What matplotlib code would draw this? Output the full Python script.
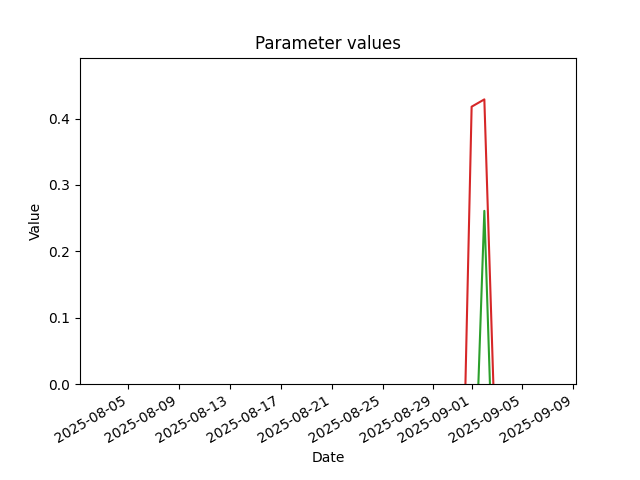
import matplotlib
matplotlib.use("Agg")
import matplotlib.pyplot as plt
import numpy as np
import pandas as pd

dates = pd.to_datetime([
    "2025-08-31 00:00", "2025-09-01 00:00", "2025-09-02 00:00", "2025-09-03 00:00",
])
param_red = [-0.44, 0.418, 0.429, -0.176]
param_green = [np.nan, -0.294, 0.261, -0.332]

x_start = pd.Timestamp("2025-08-01 04:50")
x_end = pd.Timestamp("2025-09-09 05:00")

fig, ax = plt.subplots(figsize=(6.4, 4.8), dpi=100)
ax.plot(dates, param_green, color="#2ca02c")
ax.plot(dates, param_red, color="#d62728")
ax.set_xlim(x_start, x_end)
ax.set_ylim(0, 0.492)
ax.set_title("Parameter values")
ax.set_xlabel("Date")
ax.set_ylabel("Value")
fig.autofmt_xdate()
fig.savefig("out.png", dpi=100)
